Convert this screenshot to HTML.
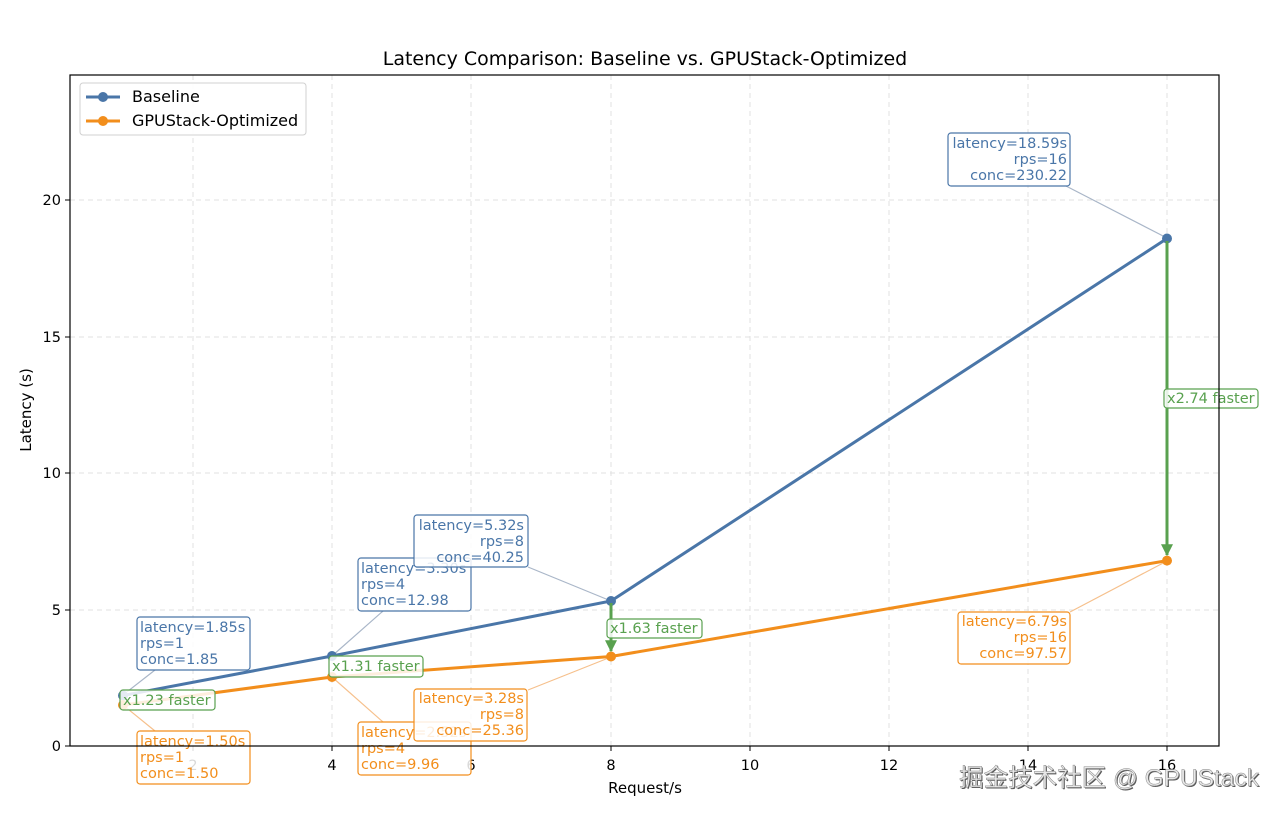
<!DOCTYPE html>
<html><head><meta charset="utf-8"><style>
html,body{margin:0;padding:0;background:#fff;}
svg{display:block;font-family:"DejaVu Sans","Liberation Sans",sans-serif;}
</style></head><body>
<svg width="1280" height="814" viewBox="0 0 1280 814" xmlns="http://www.w3.org/2000/svg">
<defs>
<marker id="ah" viewBox="0 0 10 10" refX="9" refY="5" markerWidth="4" markerHeight="4" orient="auto"><path d="M0,0 L10,5 L0,10 z" fill="#59a14f"/></marker>
</defs>
<rect width="1280" height="814" fill="#fff"/>
<text x="645" y="65" font-size="19" text-anchor="middle" fill="#000">Latency Comparison: Baseline vs. GPUStack-Optimized</text>
<g stroke="#e0e0e0" stroke-width="1" stroke-dasharray="5,4">
<line x1="193" y1="75" x2="193" y2="746"/><line x1="332" y1="75" x2="332" y2="746"/><line x1="471" y1="75" x2="471" y2="746"/><line x1="611" y1="75" x2="611" y2="746"/><line x1="750" y1="75" x2="750" y2="746"/><line x1="889" y1="75" x2="889" y2="746"/><line x1="1028" y1="75" x2="1028" y2="746"/><line x1="1167" y1="75" x2="1167" y2="746"/>
<line x1="70" y1="610" x2="1219" y2="610"/><line x1="70" y1="473" x2="1219" y2="473"/><line x1="70" y1="337" x2="1219" y2="337"/><line x1="70" y1="200" x2="1219" y2="200"/>
</g>
<g stroke="#000" stroke-width="1">
<line x1="193" y1="746" x2="193" y2="751"/><line x1="332" y1="746" x2="332" y2="751"/><line x1="471" y1="746" x2="471" y2="751"/><line x1="611" y1="746" x2="611" y2="751"/><line x1="750" y1="746" x2="750" y2="751"/><line x1="889" y1="746" x2="889" y2="751"/><line x1="1028" y1="746" x2="1028" y2="751"/><line x1="1167" y1="746" x2="1167" y2="751"/>
<line x1="65" y1="746" x2="70" y2="746"/><line x1="65" y1="610" x2="70" y2="610"/><line x1="65" y1="473" x2="70" y2="473"/><line x1="65" y1="337" x2="70" y2="337"/><line x1="65" y1="200" x2="70" y2="200"/>
</g>
<g font-size="14.5" fill="#000" text-anchor="middle">
<text x="193" y="770">2</text><text x="332" y="770">4</text><text x="471" y="770">6</text><text x="611" y="770">8</text><text x="750" y="770">10</text><text x="889" y="770">12</text><text x="1028" y="770">14</text><text x="1167" y="770">16</text>
</g>
<g font-size="14.5" fill="#000" text-anchor="end">
<text x="61" y="751">0</text><text x="61" y="615">5</text><text x="61" y="478">10</text><text x="61" y="342">15</text><text x="61" y="205">20</text>
</g>
<text x="645" y="793" font-size="15" text-anchor="middle">Request/s</text>
<text transform="translate(31,410) rotate(-90)" font-size="15" text-anchor="middle">Latency (s)</text>
<g stroke-width="1.2" fill="none">
<line x1="155" y1="670" x2="123" y2="695" stroke="#a9b6c8"/>
<line x1="383" y1="611" x2="332" y2="656" stroke="#a9b6c8"/>
<line x1="528" y1="567" x2="611" y2="601" stroke="#a9b6c8"/>
<line x1="1066" y1="186" x2="1167" y2="238" stroke="#a9b6c8"/>
<line x1="155" y1="731" x2="123" y2="705" stroke="#f6c08c"/>
<line x1="383" y1="722" x2="332" y2="677" stroke="#f6c08c"/>
<line x1="528" y1="690" x2="611" y2="657" stroke="#f6c08c"/>
<line x1="1070" y1="612" x2="1167" y2="561" stroke="#f6c08c"/>
</g>
<polyline points="123,695.5 332,656 611,601 1167,238.5" fill="none" stroke="#4a76a8" stroke-width="3"/>
<polyline points="123,705 332,677 611,656.5 1167,560.6" fill="none" stroke="#f28e1c" stroke-width="3"/>
<g fill="#4a76a8"><circle cx="123" cy="695.5" r="5"/><circle cx="332" cy="656" r="5"/><circle cx="611" cy="601" r="5"/><circle cx="1167" cy="238.5" r="5"/></g>
<g fill="#f28e1c"><circle cx="123" cy="705" r="5"/><circle cx="332" cy="677" r="5"/><circle cx="611" cy="656.5" r="5"/><circle cx="1167" cy="560.6" r="5"/></g>
<g stroke="#59a14f" stroke-width="3" fill="none">
<line x1="611" y1="603" x2="611" y2="651" marker-end="url(#ah)"/>
<line x1="1167" y1="241" x2="1167" y2="555" marker-end="url(#ah)"/>
</g>
<g font-size="14.5" stroke-width="1.2">
<rect x="137" y="617" width="113" height="53" rx="3" fill="#fff" fill-opacity="0.85" stroke="#4a76a8"/>
<g fill="#4a76a8" stroke="none"><text x="140" y="632">latency=1.85s</text><text x="140" y="648">rps=1</text><text x="140" y="664">conc=1.85</text></g>
<rect x="358" y="558" width="113" height="53" rx="3" fill="#fff" fill-opacity="0.85" stroke="#4a76a8"/>
<g fill="#4a76a8" stroke="none"><text x="361" y="573">latency=3.30s</text><text x="361" y="589">rps=4</text><text x="361" y="605">conc=12.98</text></g>
<rect x="414" y="515" width="114" height="52" rx="3" fill="#fff" fill-opacity="0.85" stroke="#4a76a8"/>
<g fill="#4a76a8" stroke="none" text-anchor="end"><text x="524" y="530">latency=5.32s</text><text x="524" y="546">rps=8</text><text x="524" y="562">conc=40.25</text></g>
<rect x="948" y="133" width="122" height="53" rx="3" fill="#fff" fill-opacity="0.85" stroke="#4a76a8"/>
<g fill="#4a76a8" stroke="none" text-anchor="end"><text x="1067" y="148">latency=18.59s</text><text x="1067" y="164">rps=16</text><text x="1067" y="180">conc=230.22</text></g>
<rect x="137" y="731" width="113" height="53" rx="3" fill="#fff" fill-opacity="0.85" stroke="#f28e1c"/>
<g fill="#f28e1c" stroke="none"><text x="140" y="746">latency=1.50s</text><text x="140" y="762">rps=1</text><text x="140" y="778">conc=1.50</text></g>
<rect x="358" y="722" width="113" height="53" rx="3" fill="#fff" fill-opacity="0.85" stroke="#f28e1c"/>
<g fill="#f28e1c" stroke="none"><text x="361" y="737">latency=2.52s</text><text x="361" y="753">rps=4</text><text x="361" y="769">conc=9.96</text></g>
<rect x="414" y="689" width="113" height="52" rx="3" fill="#fff" fill-opacity="0.85" stroke="#f28e1c"/>
<g fill="#f28e1c" stroke="none" text-anchor="end"><text x="524" y="703">latency=3.28s</text><text x="524" y="719">rps=8</text><text x="524" y="735">conc=25.36</text></g>
<rect x="958" y="612" width="112" height="52" rx="3" fill="#fff" fill-opacity="0.85" stroke="#f28e1c"/>
<g fill="#f28e1c" stroke="none" text-anchor="end"><text x="1067" y="626">latency=6.79s</text><text x="1067" y="642">rps=16</text><text x="1067" y="658">conc=97.57</text></g>
</g>
<g font-size="14.5" stroke-width="1.2">
<rect x="120" y="690" width="95" height="20" rx="3" fill="#fff" fill-opacity="0.85" stroke="#59a14f"/><text x="123" y="705" fill="#59a14f">x1.23 faster</text>
<rect x="329" y="656" width="94" height="21" rx="3" fill="#fff" fill-opacity="0.85" stroke="#59a14f"/><text x="332" y="671" fill="#59a14f">x1.31 faster</text>
<rect x="607" y="619" width="95" height="19" rx="3" fill="#fff" fill-opacity="0.85" stroke="#59a14f"/><text x="610" y="633" fill="#59a14f">x1.63 faster</text>
<rect x="1164" y="389" width="94" height="19" rx="3" fill="#fff" fill-opacity="0.85" stroke="#59a14f"/><text x="1167" y="403" fill="#59a14f">x2.74 faster</text>
</g>
<rect x="70" y="75" width="1149" height="671" fill="none" stroke="#000" stroke-width="1.2"/>
<rect x="80" y="83" width="226" height="52" rx="3" fill="#fff" fill-opacity="0.9" stroke="#d0d0d0"/>
<line x1="86" y1="97" x2="120" y2="97" stroke="#4a76a8" stroke-width="3"/><circle cx="103" cy="97" r="5" fill="#4a76a8"/>
<line x1="86" y1="121" x2="120" y2="121" stroke="#f28e1c" stroke-width="3"/><circle cx="103" cy="121" r="5" fill="#f28e1c"/>
<text x="132" y="102" font-size="16">Baseline</text>
<text x="132" y="126" font-size="16">GPUStack-Optimized</text>
<text x="1259" y="786" font-size="24.5" text-anchor="end" fill="#555" font-family="'Liberation Sans','Noto Sans CJK SC',sans-serif" transform="translate(1,1)">掘金技术社区 @ GPUStack</text>
<text x="1259" y="786" font-size="24.5" text-anchor="end" fill="#e8e8e8" stroke="#888" stroke-width="0.5" font-family="'Liberation Sans','Noto Sans CJK SC',sans-serif">掘金技术社区 @ GPUStack</text>
</svg>
</body></html>
